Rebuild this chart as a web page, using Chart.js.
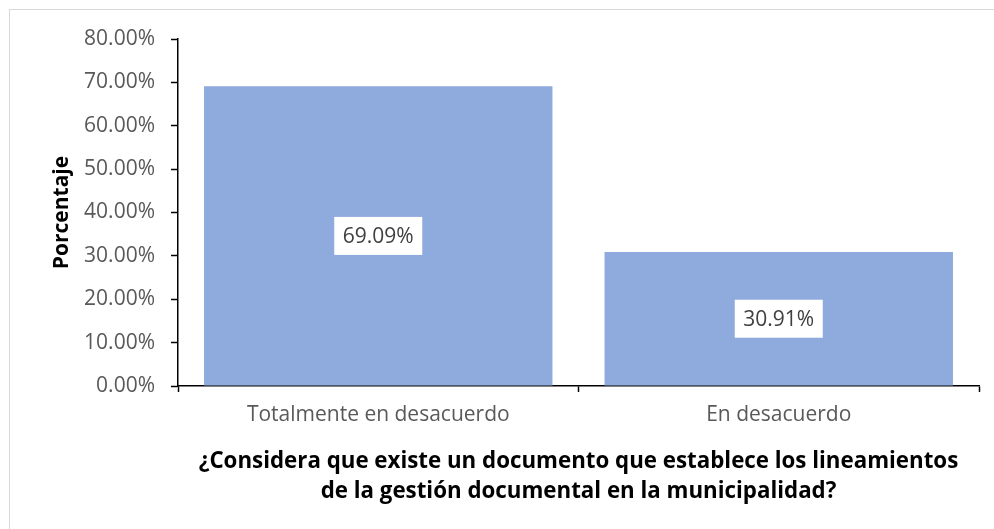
<!DOCTYPE html>
<html>
<head>
<meta charset="utf-8">
<script src="https://cdn.jsdelivr.net/npm/chart.js@4"></script>
<style>
  html, body { margin: 0; padding: 0; background: #ffffff; overflow: hidden; }
  #wrap { position: relative; width: 994px; height: 529px; }
  #frame { position: absolute; left: 9px; top: 9px; width: 1100px; height: 700px; border: 1.5px solid #d9d9d9; pointer-events: none; }
</style>
</head>
<body>
<div id="wrap">
  <canvas id="c" width="994" height="529"></canvas>
  <div id="frame"></div>
</div>
<script>
const categories = ['Totalmente en desacuerdo', 'En desacuerdo'];
const values = [69.09, 30.91];
const yTicks = [0, 10, 20, 30, 40, 50, 60, 70, 80];
const yTitle = 'Porcentaje';
const xTitle = ['¿Considera que existe un documento que establece los lineamientos', 'de la gestión documental en la municipalidad?'];

const FONT = "'Open Sans', 'Noto Sans', sans-serif";

const labelPlugin = {
  id: 'boxLabels',
  afterDatasetsDraw(chart) {
    const ctx = chart.ctx;
    const meta = chart.getDatasetMeta(0);
    ctx.save();
    ctx.font = '21px ' + FONT;
    ctx.textAlign = 'center';
    ctx.textBaseline = 'middle';
    meta.data.forEach((bar, i) => {
      const cx = bar.x;
      const cy = (bar.y + bar.base) / 2;
      const text = values[i].toFixed(2) + '%';
      const w = 88, h = 38;
      ctx.fillStyle = '#ffffff';
      ctx.fillRect(cx - w / 2, cy - h / 2, w, h);
      ctx.fillStyle = '#404040';
      ctx.fillText(text, cx, cy + 1);
    });
    ctx.restore();
  }
};

new Chart(document.getElementById('c'), {
  type: 'bar',
  data: {
    labels: categories,
    datasets: [{
      data: values,
      backgroundColor: '#8FAADC',
      borderWidth: 0,
      barPercentage: 0.87,
      categoryPercentage: 1.0
    }]
  },
  options: {
    responsive: false,
    animation: false,
    devicePixelRatio: 1,
    layout: { padding: { left: 0, right: 15, top: 39, bottom: 0 } },
    plugins: { legend: { display: false }, tooltip: { enabled: false } },
    scales: {
      x: {
        offset: true,
        grid: { display: true, drawOnChartArea: false, offset: true, tickLength: 6, tickColor: '#000000', tickWidth: 1.5 },
        border: { display: true, color: '#000000', width: 1.5 },
        ticks: { color: '#595959', font: { family: FONT, size: 21 }, padding: 10, maxRotation: 0 },
        title: { display: true, text: xTitle, color: '#000000', font: { family: FONT, size: 22.3, weight: 'bold', lineHeight: 1.35 }, padding: { top: 0, bottom: 22 } },
        afterFit(scale) { scale.height = 143; }
      },
      y: {
        min: 0,
        max: 80,
        afterBuildTicks(scale) { scale.ticks = yTicks.map(v => ({ value: v })); },
        grid: { display: true, drawOnChartArea: false, tickLength: 7, tickColor: '#000000', tickWidth: 1.5 },
        border: { display: true, color: '#000000', width: 1.5 },
        ticks: { color: '#595959', font: { family: FONT, size: 21 }, padding: 16, callback: v => v.toFixed(2) + '%' },
        title: { display: true, text: yTitle, color: '#000000', font: { family: FONT, size: 21, weight: 'bold', lineHeight: 1.2 }, padding: { top: 49, bottom: 0 } },
        afterFit(scale) { scale.width = 178; }
      }
    }
  },
  plugins: [labelPlugin]
});
</script>
</body>
</html>
